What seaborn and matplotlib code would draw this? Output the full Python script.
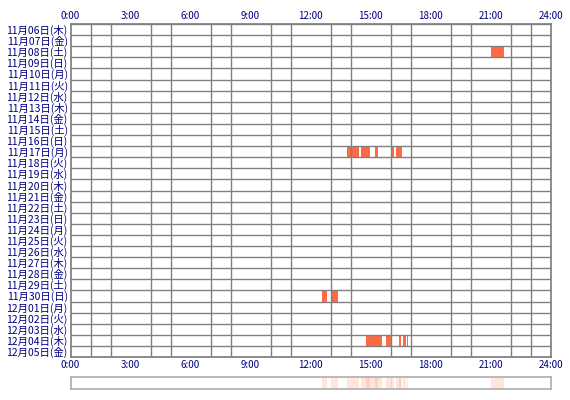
import matplotlib
matplotlib.use('Agg')
import matplotlib.pyplot as plt
import seaborn as sns
import pandas as pd

# days shown (rows), top to bottom
days = pd.date_range('2014-11-06', '2014-12-05')
weekdays = ['月', '火', '水', '木', '金', '土', '日']
day_labels = [f"{d.month}月{d.day:02d}日({weekdays[d.weekday()]})" for d in days]

# activity segments: row index, start hour, end hour
seg_rows = [2, 11, 11, 11, 11, 11, 24, 24, 28, 28, 28, 28, 28]
seg_start = [21.0, 13.82, 14.5, 15.2, 16.03, 16.25, 12.58, 13.0, 14.78, 15.75, 16.4, 16.62, 16.82]
seg_end = [21.65, 14.42, 14.95, 15.35, 16.15, 16.55, 12.82, 13.35, 15.55, 16.08, 16.53, 16.75, 16.88]

hour_ticks = [0, 3, 6, 9, 12, 15, 18, 21, 24]
hour_labels = [f"{h}:00" for h in hour_ticks]

sns.set_theme(style='white')
plt.rcParams['font.family'] = ['Noto Sans CJK JP', 'DejaVu Sans']

fig = plt.figure(figsize=(5.7, 4), dpi=100)
ax = fig.add_axes([70.5 / 570, 1 - 357 / 400, 480 / 570, 333 / 400])
grid_c = '#808080'
navy = '#000080'

for r, s, e in zip(seg_rows, seg_start, seg_end):
    ax.barh(r + 0.5, e - s, left=s, height=1.0, color='#ff6a45', edgecolor='none', zorder=1)

ax.set_xlim(0, 24)
ax.set_ylim(len(days), 0)
ax.set_xticks(range(25), minor=True)
ax.set_yticks(range(len(days) + 1), minor=True)
ax.grid(which='minor', color=grid_c, linewidth=1, zorder=2)
ax.grid(which='major', visible=False)
ax.set_axisbelow(False)
ax.set_xticks(hour_ticks)
ax.set_xticklabels(hour_labels, color=navy, fontsize=7)
ax.set_yticks([i + 0.5 for i in range(len(days))])
ax.set_yticklabels(day_labels, color=navy, fontsize=7.5)
ax.tick_params(which='both', length=0, pad=2)
ax.tick_params(axis='x', top=True, labeltop=True, labelbottom=True)
for sp in ax.spines.values():
    sp.set_color(grid_c)

# summary strip
ax2 = fig.add_axes([70.5 / 570, 0.0275, 480 / 570, 0.03])
for s, e in zip(seg_start, seg_end):
    ax2.axvspan(s, e, color='#ff9a70', alpha=0.25, lw=0)
ax2.set_xlim(0, 24)
ax2.set_xticks([])
ax2.set_yticks([])
for sp in ax2.spines.values():
    sp.set_color('#b0b0b0')

fig.savefig('out.png', dpi=100)
